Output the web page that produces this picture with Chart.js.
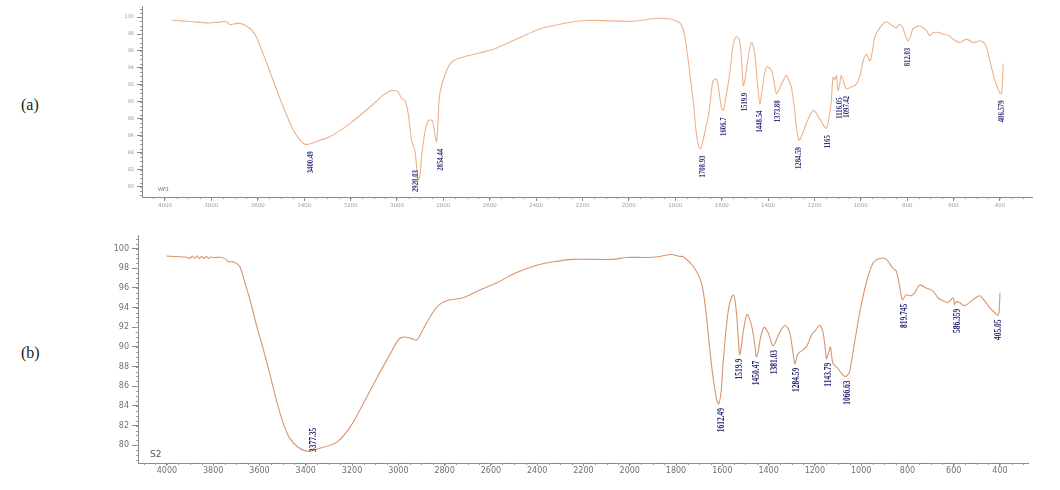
<!DOCTYPE html>
<html>
<head>
<meta charset="utf-8">
<script src="https://cdn.jsdelivr.net/npm/chart.js@4.4.1/dist/chart.umd.min.js"></script>
<style>
  body { margin: 0; background: #fff; width: 1060px; height: 490px; position: relative; overflow: hidden; }
  .box { position: absolute; }
  .panel { position: absolute; font: 16px "Liberation Serif", serif; color: #222; }
  .tag { position: absolute; font-family: "DejaVu Sans", sans-serif; color: #666; }
</style>
</head>
<body>
<div class="panel" style="left:21px;top:96px">(a)</div>
<div class="panel" style="left:21px;top:344px">(b)</div>
<div class="box" style="left:100px;top:0;width:960px;height:215px"><canvas id="topChart"></canvas></div>
<div class="box" style="left:100px;top:228px;width:960px;height:262px"><canvas id="bottomChart"></canvas></div>
<div class="tag" style="left:158px;top:186px;font-size:5px">WF1</div>
<div class="tag" style="left:150px;top:449px;font-size:9px;color:#555">S2</div>
<script>
// tick labels
const xTickValues = [4000, 3800, 3600, 3400, 3200, 3000, 2800, 2600, 2400, 2200, 2000, 1800, 1600, 1400, 1200, 1000, 800, 600, 400];
const yTickValues = [80, 82, 84, 86, 88, 90, 92, 94, 96, 98, 100];

// (a) spectrum, wavenumber (cm-1) and transmittance
const topWavenumbers = [3971, 3930, 3879, 3840, 3806, 3770, 3734, 3720, 3700, 3677, 3648, 3625, 3605, 3576, 3533, 3490, 3447, 3420, 3395, 3370, 3330, 3289, 3203, 3116, 3059, 3030, 3010, 2994, 2980, 2966, 2951, 2937, 2923, 2915, 2908, 2900, 2894, 2879, 2865, 2848, 2838, 2829, 2822, 2815, 2786, 2757, 2700, 2640, 2585, 2484, 2384, 2269, 2183, 2080, 1981, 1881, 1830, 1800, 1780, 1765, 1752, 1738, 1723, 1709, 1698, 1690, 1680, 1668, 1658, 1645, 1637, 1622, 1608, 1600, 1593, 1585, 1572, 1560, 1550, 1536, 1522, 1512, 1507, 1500, 1486, 1471, 1457, 1445, 1435, 1425, 1407, 1385, 1372, 1364, 1352, 1342, 1321, 1310, 1299, 1285, 1278, 1266, 1255, 1235, 1205, 1177, 1160, 1148, 1135, 1127, 1120, 1112, 1105, 1098, 1090, 1084, 1070, 1062, 1047, 1019, 1000, 990, 976, 961, 950, 940, 918, 890, 868, 847, 832, 820, 810, 796, 785, 775, 746, 717, 703, 689, 670, 646, 620, 602, 573, 544, 516, 487, 470, 458, 437, 422, 408, 400, 393, 386];
const topValues = [99.65, 99.55, 99.45, 99.35, 99.3, 99.4, 99.45, 99.1, 99.2, 99.25, 98.95, 98.4, 97.6, 95.6, 92.5, 89.4, 86.7, 85.6, 85.0, 85.1, 85.5, 85.9, 87.45, 89.4, 90.8, 91.3, 91.35, 91.15, 90.4, 90.2, 88.6, 85.5, 84.3, 82.4, 80.8, 81.5, 83.5, 86.5, 87.8, 87.8, 86.5, 85.3, 88, 91, 93.7, 94.85, 95.4, 95.8, 96.2, 97.4, 98.6, 99.3, 99.6, 99.55, 99.5, 99.85, 99.8, 99.6, 99.3, 98.5, 96.5, 93.5, 90.2, 86.3, 84.7, 84.5, 85.5, 87, 88.2, 91, 92.5, 92.7, 90.6, 89.2, 89, 90, 92.1, 94.5, 96.8, 97.7, 97.2, 94, 91.9, 92.5, 95.2, 97, 95.6, 92, 89.8, 91.5, 94.1, 93.7, 92, 91, 91.5, 92.1, 93.1, 92.5, 91.7, 89, 87, 85.5, 86, 87.45, 89, 88, 87.2, 86.9, 88.5, 90.2, 92.9, 92.6, 93.1, 91.35, 92.3, 93.1, 92, 91.55, 91.7, 92.1, 93.5, 94.85, 95.6, 94.85, 96, 97.6, 98.75, 99.45, 99.05, 98.75, 99.15, 98.8, 98, 97.2, 97.8, 98.6, 98.95, 98.4, 97.8, 98.15, 98.2, 98, 97.8, 97.4, 97, 97.4, 97, 97.2, 97, 96.4, 94.1, 92.5, 91.55, 91, 91, 94.5];
const topPeakText = ["3400.49", "2920.03", "2854.44", "1708.93", "1606.7", "1519.9", "1448.54", "1373.88", "1284.59", "1165", "1116.05", "1097.42", "812.03", "406.579"];
const topPeakAt = [3371, 2918, 2812, 1681, 1591, 1500, 1435, 1358, 1267, 1142, 1091, 1060, 797, 392];
const topPeakValue = [85.0, 80.8, 85.3, 84.5, 89, 91.9, 89.8, 91, 85.5, 86.9, 91.35, 91.55, 97.2, 91];

// (b) spectrum
const bottomWavenumbers = [4001, 3960, 3930, 3910, 3900, 3890, 3880, 3870, 3860, 3850, 3840, 3830, 3820, 3810, 3800, 3764, 3745, 3735, 3714, 3700, 3685, 3663, 3641, 3613, 3584, 3555, 3526, 3497, 3469, 3433, 3390, 3339, 3267, 3210, 3152, 3094, 3037, 3001, 2979, 2950, 2921, 2893, 2864, 2828, 2792, 2720, 2648, 2576, 2504, 2403, 2317, 2245, 2072, 2014, 1928, 1870, 1820, 1784, 1770, 1726, 1690, 1669, 1647, 1626, 1616, 1605, 1597, 1582, 1568, 1551, 1539, 1530, 1525, 1518, 1510, 1493, 1474, 1460, 1453, 1445, 1436, 1420, 1403, 1390, 1381, 1370, 1352, 1328, 1309, 1295, 1287, 1280, 1273, 1237, 1215, 1194, 1179, 1165, 1155, 1150, 1140, 1133, 1127, 1121, 1100, 1085, 1071, 1060, 1050, 1028, 1006, 978, 949, 920, 891, 863, 848, 834, 822, 805, 784, 769, 747, 719, 690, 668, 647, 625, 603, 596, 590, 574, 553, 517, 488, 467, 445, 423, 409, 404, 400];
const bottomValues = [99.23, 99.2, 99.15, 99.1, 99.0, 99.25, 99.0, 99.25, 99.0, 99.2, 99.0, 99.2, 99.0, 99.15, 99.1, 99.1, 98.9, 98.67, 98.67, 98.5, 98.17, 96.5, 94.8, 92.2, 89.8, 87.2, 84.5, 82.2, 80.7, 79.8, 79.4, 79.7, 80.3, 81.8, 84.2, 86.8, 89.2, 90.7, 91, 90.9, 90.7, 91.8, 93, 94.2, 94.7, 95, 95.8, 96.5, 97.4, 98.3, 98.7, 98.9, 98.9, 99.1, 99.1, 99.2, 99.4, 99.2, 99.2, 98.2, 96.5, 93.2, 88.2, 84.8, 84.2, 85.5, 88.2, 92.2, 94.5, 95.3, 93.5, 90.5, 89.2, 90, 91.5, 93.3, 92.2, 90.3, 89, 89.5, 90.8, 92, 91.5, 90.6, 90.1, 90.5, 91.5, 92.2, 91.5, 89.5, 88.3, 88.8, 89.3, 90, 91.2, 91.8, 92.2, 91.5, 89.8, 88.8, 89.5, 90, 89, 88.3, 87.8, 87.3, 87, 87.1, 87.5, 90.5, 93.5, 96.5, 98.5, 99, 98.9, 98, 97.7, 96.2, 94.8, 95.3, 95.2, 95.5, 96.3, 96, 95.7, 95, 94.7, 94.5, 95, 94.3, 94.6, 94.5, 94.2, 94.8, 95.2, 94.7, 94, 93.5, 93.2, 93.6, 95.5];
const bottomPeakText = ["3377.35", "1612.49", "1519.9", "1450.47", "1381.03", "1284.59", "1143.79", "1066.63", "819.745", "586.359", "405.05"];
const bottomPeakAt = [3369, 1605, 1525, 1451, 1374, 1279, 1140, 1058, 812, 583, 406];
const bottomPeakValue = [79.4, 84.2, 89.2, 89, 90.1, 88.3, 88.8, 87, 94.8, 94.3, 93.2];

// small ticks between the labelled ones
const minorTicks = {
  id: "minorTicks",
  afterDraw(chart, args, opts) {
    const { ctx, scales: { x, y } } = chart;
    ctx.save();
    ctx.strokeStyle = opts.color;
    ctx.lineWidth = 1;
    ctx.beginPath();
    for (let v = Math.ceil(x.min / opts.xStep) * opts.xStep; v <= x.max; v += opts.xStep) {
      const px = Math.round(x.getPixelForValue(v)) + 0.5;
      ctx.moveTo(px, x.top);
      ctx.lineTo(px, x.top + opts.len);
    }
    for (let v = Math.ceil(y.min / opts.yStep) * opts.yStep; v <= y.max; v += opts.yStep) {
      const py = Math.round(y.getPixelForValue(v)) + 0.5;
      ctx.moveTo(y.right - opts.len, py);
      ctx.lineTo(y.right, py);
    }
    ctx.stroke();
    ctx.restore();
  }
};

// vertical peak labels under each band
const peakLabels = {
  id: "peakLabels",
  afterDatasetsDraw(chart, args, opts) {
    const { ctx, chartArea, scales: { x, y } } = chart;
    ctx.save();
    ctx.fillStyle = opts.color;
    ctx.font = opts.font;
    ctx.textAlign = "right";
    ctx.textBaseline = "middle";
    opts.at.forEach((w, i) => {
      const txt = opts.text[i];
      const len = ctx.measureText(txt).width * opts.squeeze;
      const px = x.getPixelForValue(w);
      let top = y.getPixelForValue(opts.value[i]) + opts.gap;
      if (top + len > chartArea.bottom - opts.margin) top = chartArea.bottom - opts.margin - len;
      ctx.save();
      ctx.translate(px, top);
      ctx.rotate(-Math.PI / 2);
      ctx.scale(opts.squeeze, 1);
      ctx.fillText(txt, 0, 0);
      ctx.restore();
    });
    ctx.restore();
  }
};

function makeChart(id, cfg) {
  const points = cfg.wn.map((w, i) => ({ x: w, y: cfg.val[i] }));
  return new Chart(document.getElementById(id), {
    type: "line",
    data: { datasets: [{ data: points, borderColor: cfg.lineColor, borderWidth: 1.1, pointRadius: 0, tension: 0.3, fill: false }] },
    plugins: [minorTicks, peakLabels],
    options: {
      responsive: true,
      maintainAspectRatio: false,
      animation: false,
      layout: { padding: cfg.padding },
      scales: {
        x: {
          type: "linear",
          reverse: true,
          min: cfg.xMin,
          max: cfg.xMax,
          afterBuildTicks: s => { s.ticks = xTickValues.map(v => ({ value: v })); },
          afterFit: s => { s.height = cfg.xHeight; },
          grid: { display: true, drawOnChartArea: false, tickLength: cfg.tickLen, color: "#8a8a8a" },
          border: { display: true, color: "#8a8a8a" },
          ticks: { autoSkip: false, maxRotation: 0, padding: cfg.xPad, color: cfg.tickColor, font: { family: "DejaVu Sans", size: cfg.xFont }, callback: v => String(v) }
        },
        y: {
          min: cfg.yMin,
          max: cfg.yMax,
          afterBuildTicks: s => { s.ticks = yTickValues.map(v => ({ value: v })); },
          afterFit: s => { s.width = cfg.yWidth; },
          grid: { display: true, drawOnChartArea: false, tickLength: cfg.yTickLen, color: "#8a8a8a" },
          border: { display: true, color: "#8a8a8a" },
          ticks: { padding: 3, color: cfg.tickColor, font: { family: "DejaVu Sans", size: cfg.yFont }, callback: v => String(v) }
        }
      },
      plugins: {
        legend: { display: false },
        tooltip: { enabled: false },
        minorTicks: { xStep: 50, yStep: 0.5, len: 2, color: "#9a9a9a" },
        peakLabels: { at: cfg.peakAt, value: cfg.peakValue, text: cfg.peakText, color: cfg.labelColor, font: cfg.labelFont, squeeze: 0.75, gap: cfg.gap, margin: cfg.margin }
      }
    }
  });
}

makeChart("topChart", {
  wn: topWavenumbers, val: topValues, lineColor: "#f0b08a",
  xMin: 262, xMax: 4099, yMin: 78.8, yMax: 101.3,
  padding: { top: 5, right: 28, left: 0, bottom: 0 },
  xHeight: 18, yWidth: 42, tickLen: 4, yTickLen: 5, xPad: 1,
  tickColor: "#a0a0a0", xFont: 5.5, yFont: 5,
  peakAt: topPeakAt, peakValue: topPeakValue, peakText: topPeakText,
  labelColor: "#34347e", labelFont: "bold 9px 'Liberation Serif'", gap: 7, margin: 5
});

makeChart("bottomChart", {
  wn: bottomWavenumbers, val: bottomValues, lineColor: "#d8956c",
  xMin: 279, xMax: 4125, yMin: 78.2, yMax: 101.3,
  padding: { top: 4, right: 32, left: 0, bottom: 0 },
  xHeight: 27, yWidth: 38, tickLen: 3, yTickLen: 6, xPad: 0,
  tickColor: "#707070", xFont: 8, yFont: 8,
  peakAt: bottomPeakAt, peakValue: bottomPeakValue, peakText: bottomPeakText,
  labelColor: "#1f1f6a", labelFont: "bold 10px 'Liberation Serif'", gap: 4, margin: 11
});
</script>
</body>
</html>
